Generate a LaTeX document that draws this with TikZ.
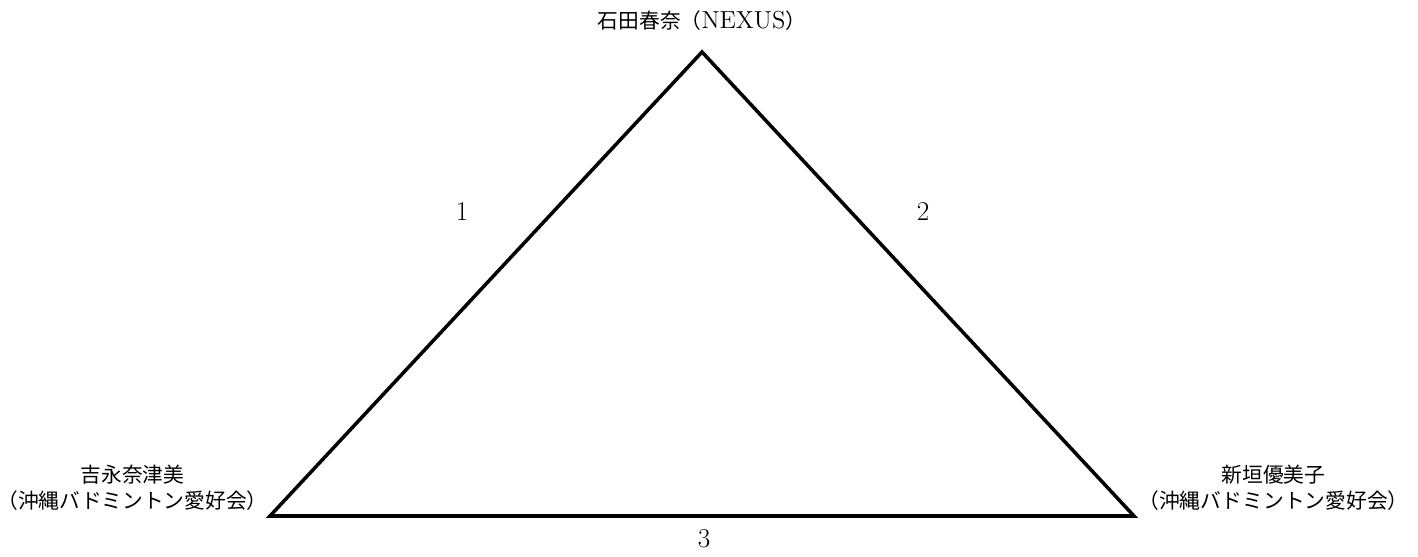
\documentclass[tikz,border=0pt]{standalone}
\usepackage{fontspec}
\newfontfamily\jp{Noto Sans CJK JP}
\usepackage{tikz}
\usetikzlibrary{positioning}
\tikzset{
  %% ---- labels ----
  player/.style   = {align=center, inner sep=0pt,
                     font=\fontsize{11.8pt}{14.8pt}\selectfont\jp},
  pairlabel/.style = {inner sep=0pt, font=\fontsize{15.5pt}{18pt}\selectfont},
  %% ---- triangle ----
  pairline/.style = {line width=2pt, line join=miter, color=black},
}

\begin{document}
\begin{tikzpicture}[x=0.02cm, y=-0.02cm]

  \useasboundingbox (0,0) rectangle (1418,557);

  \coordinate (ishida)   at (702,52);
  \coordinate (yoshi)    at (270,516);
  \coordinate (arakaki)  at (1134,516);

  \node[player] (nIshida) at (702,21)
    {石田春奈（{\rmfamily\fontsize{14pt}{14.8pt}\selectfont NEXUS}）};
  \node[player, anchor=east] (nYoshi) at (268,488)
    {吉永奈津美\\（沖縄バドミントン愛好会）};
  \node[player, anchor=west] (nArakaki) at (1138,488)
    {新垣優美子\\（沖縄バドミントン愛好会）};

  \draw[pairline] (ishida) -- (arakaki) -- (yoshi) -- cycle;

  \node[pairlabel] (m1) at (462,212) {1};
  \node[pairlabel] (m2) at (923,212) {2};
  \node[pairlabel] (m3) at (704,539) {3};

\end{tikzpicture}
\end{document}
